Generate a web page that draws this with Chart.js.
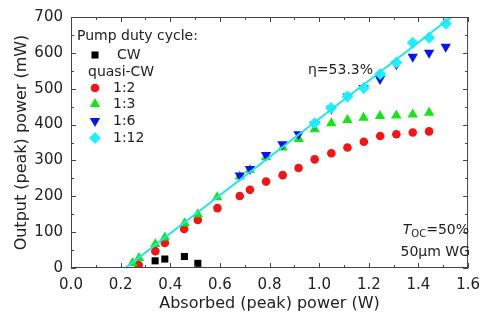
<!DOCTYPE html>
<html>
<head>
<meta charset="utf-8">
<script src="https://cdn.jsdelivr.net/npm/chart.js@4.4.0/dist/chart.umd.min.js"></script>
<style>
html, body { margin: 0; padding: 0; background: #fff; }
</style>
</head>
<body>
<canvas id="chart" width="488" height="316"></canvas>
<script>
// absorbed (peak) power in W, output (peak) power in mW
const cwX = [0.273, 0.339, 0.378, 0.457, 0.511];
const cwY = [6, 20, 25, 32, 13];
const d12X = [0.272, 0.34, 0.378, 0.456, 0.511, 0.59, 0.68, 0.721, 0.786, 0.853, 0.917, 0.982, 1.049, 1.114, 1.18, 1.246, 1.311, 1.377, 1.443];
const d12Y = [8, 47, 70, 109, 134, 167, 201, 218, 241, 259, 279, 303, 320, 336, 352, 368, 373, 378, 381];
const d13X = [0.248, 0.274, 0.34, 0.378, 0.458, 0.511, 0.589, 0.68, 0.721, 0.786, 0.853, 0.918, 0.982, 1.049, 1.114, 1.179, 1.245, 1.311, 1.377, 1.443];
const d13Y = [14, 28, 67, 85, 125, 150, 197, 255, 274, 309, 336, 360, 387, 404, 413, 419, 424, 425, 428, 433];
const d16X = [0.68, 0.721, 0.786, 0.852, 0.917, 0.982, 1.049, 1.115, 1.179, 1.245, 1.311, 1.377, 1.443, 1.51];
const d16Y = [258, 276, 315, 345, 373, 401, 444, 478, 502, 527, 568, 589, 600, 617];
const d112X = [0.982, 1.048, 1.114, 1.18, 1.246, 1.311, 1.377, 1.443, 1.511];
const d112Y = [404, 446, 478, 502, 541, 573, 628, 642, 681];
const fitX = [0.219, 1.533];
const fitY = [0, 700];

const xTicks = [0, 0.2, 0.4, 0.6, 0.8, 1.0, 1.2, 1.4, 1.6];
const yTicks = [0, 100, 200, 300, 400, 500, 600, 700];

const FONT = "'DejaVu Sans', sans-serif";
const TXT = '#222';

function pts(xs, ys) {
    return xs.map((x, i) => ({ x: x, y: ys[i] }));
}

// frame, inward ticks (major + minor) on all four sides, legend, notes
const decor = {
    id: 'decor',
    afterDraw(chart) {
        let ctx = chart.ctx,
            a = chart.chartArea,
            xs = chart.scales.x,
            ys = chart.scales.y;
        ctx.save();
        ctx.strokeStyle = '#444';
        ctx.lineWidth = 1;
        ctx.strokeRect(a.left + 0.5, a.top + 0.5, a.right - a.left - 1, a.bottom - a.top - 1);

        ctx.beginPath();
        for (let i = 0; i < xTicks.length; i++) {
            let px = Math.round(xs.getPixelForValue(xTicks[i])) + 0.5;
            ctx.moveTo(px, a.bottom); ctx.lineTo(px, a.bottom - 5);
            ctx.moveTo(px, a.top); ctx.lineTo(px, a.top + 5);
            if (i < xTicks.length - 1) {
                let m = Math.round((xs.getPixelForValue(xTicks[i]) + xs.getPixelForValue(xTicks[i + 1])) / 2) + 0.5;
                ctx.moveTo(m, a.bottom); ctx.lineTo(m, a.bottom - 3);
                ctx.moveTo(m, a.top); ctx.lineTo(m, a.top + 3);
            }
        }
        for (let i = 0; i < yTicks.length; i++) {
            let py = Math.round(ys.getPixelForValue(yTicks[i])) + 0.5;
            ctx.moveTo(a.left, py); ctx.lineTo(a.left + 5, py);
            ctx.moveTo(a.right, py); ctx.lineTo(a.right - 5, py);
            if (i < yTicks.length - 1) {
                let m = Math.round((ys.getPixelForValue(yTicks[i]) + ys.getPixelForValue(yTicks[i + 1])) / 2) + 0.5;
                ctx.moveTo(a.left, m); ctx.lineTo(a.left + 3, m);
                ctx.moveTo(a.right, m); ctx.lineTo(a.right - 3, m);
            }
        }
        ctx.stroke();

        // legend
        ctx.fillStyle = TXT;
        ctx.font = '14px ' + FONT;
        ctx.textBaseline = 'middle';
        ctx.textAlign = 'left';
        ctx.fillText('Pump duty cycle:', a.left + 6, a.top + 19);
        ctx.fillText('quasi-CW', a.left + 17, a.top + 55);
        let rows = [
            { ds: 5, y: 38, tx: 46 },
            { ds: 4, y: 71, tx: 42 },
            { ds: 3, y: 87, tx: 42 },
            { ds: 2, y: 104, tx: 42 },
            { ds: 1, y: 121, tx: 42 }
        ];
        rows.forEach(r => {
            let d = chart.data.datasets[r.ds];
            ctx.fillStyle = d.backgroundColor;
            Chart.helpers.drawPoint(ctx, {
                pointStyle: d.pointStyle,
                rotation: d.pointRotation || 0,
                radius: d.pointRadius,
                borderWidth: 0
            }, a.left + 24, a.top + r.y);
            ctx.fillStyle = TXT;
            ctx.fillText(d.label, a.left + r.tx, a.top + r.y);
        });

        // notes
        ctx.fillText('\u03b7=53.3%', 308, 70);
        let right = 469;
        ctx.font = 'italic 14px ' + FONT;
        let wT = ctx.measureText('T').width;
        ctx.font = '10px ' + FONT;
        let wOC = ctx.measureText('OC').width;
        ctx.font = '14px ' + FONT;
        let wR = ctx.measureText('=50%').width;
        let x0 = right - wT - wOC - wR;
        ctx.font = 'italic 14px ' + FONT;
        ctx.fillText('T', x0, 230);
        ctx.font = '10px ' + FONT;
        ctx.fillText('OC', x0 + wT, 234);
        ctx.font = '14px ' + FONT;
        ctx.fillText('=50%', x0 + wT + wOC, 230);
        ctx.textAlign = 'right';
        ctx.fillText('50\u03bcm WG', right + 1, 252);
        ctx.restore();
    }
};

new Chart(document.getElementById('chart'), {
    type: 'scatter',
    data: {
        datasets: [
            {
                type: 'line',
                label: 'fit',
                data: pts(fitX, fitY),
                borderColor: '#1ee6f0',
                borderWidth: 2,
                pointRadius: 0,
                showLine: true,
                fill: false
            },
            {
                label: '1:12',
                data: pts(d112X, d112Y),
                backgroundColor: '#1ef0ff',
                pointStyle: 'rectRot',
                pointRadius: 6,
                pointBorderWidth: 0
            },
            {
                label: '1:6',
                data: pts(d16X, d16Y),
                backgroundColor: '#0a14f0',
                pointStyle: 'triangle',
                pointRotation: 180,
                pointRadius: 6,
                pointBorderWidth: 0
            },
            {
                label: '1:3',
                data: pts(d13X, d13Y),
                backgroundColor: '#14e614',
                pointStyle: 'triangle',
                pointRadius: 6,
                pointBorderWidth: 0
            },
            {
                label: '1:2',
                data: pts(d12X, d12Y),
                backgroundColor: '#f51414',
                pointStyle: 'circle',
                pointRadius: 4.3,
                pointBorderWidth: 0
            },
            {
                label: 'CW',
                data: pts(cwX, cwY),
                backgroundColor: '#000',
                pointStyle: 'rect',
                pointRadius: 5,
                pointBorderWidth: 0
            }
        ]
    },
    options: {
        responsive: false,
        animation: false,
        layout: { padding: { top: 13, right: 11, left: 0, bottom: 0 } },
        plugins: {
            legend: { display: false },
            tooltip: { enabled: false }
        },
        scales: {
            x: {
                type: 'linear',
                min: 0,
                max: 1.6,
                afterBuildTicks: s => { s.ticks = xTicks.map(v => ({ value: v })); },
                afterFit: s => { s.height = 48; },
                grid: { display: false, drawTicks: false },
                border: { display: false },
                ticks: {
                    padding: 8,
                    color: TXT,
                    font: { family: FONT, size: 15 },
                    callback: v => v.toFixed(1)
                },
                title: {
                    display: true,
                    text: 'Absorbed (peak) power (W)',
                    color: TXT,
                    font: { family: FONT, size: 16 },
                    padding: { top: 0, bottom: 3 }
                }
            },
            y: {
                type: 'linear',
                min: 0,
                max: 700,
                afterBuildTicks: s => { s.ticks = yTicks.map(v => ({ value: v })); },
                afterFit: s => { s.width = 71; },
                grid: { display: false, drawTicks: false },
                border: { display: false },
                ticks: {
                    padding: 8,
                    color: TXT,
                    font: { family: FONT, size: 15 },
                    callback: v => String(v)
                },
                title: {
                    display: true,
                    text: 'Output (peak) power (mW)',
                    color: TXT,
                    font: { family: FONT, size: 16 },
                    padding: { top: 12, bottom: 0 }
                }
            }
        }
    },
    plugins: [decor]
});
</script>
</body>
</html>
